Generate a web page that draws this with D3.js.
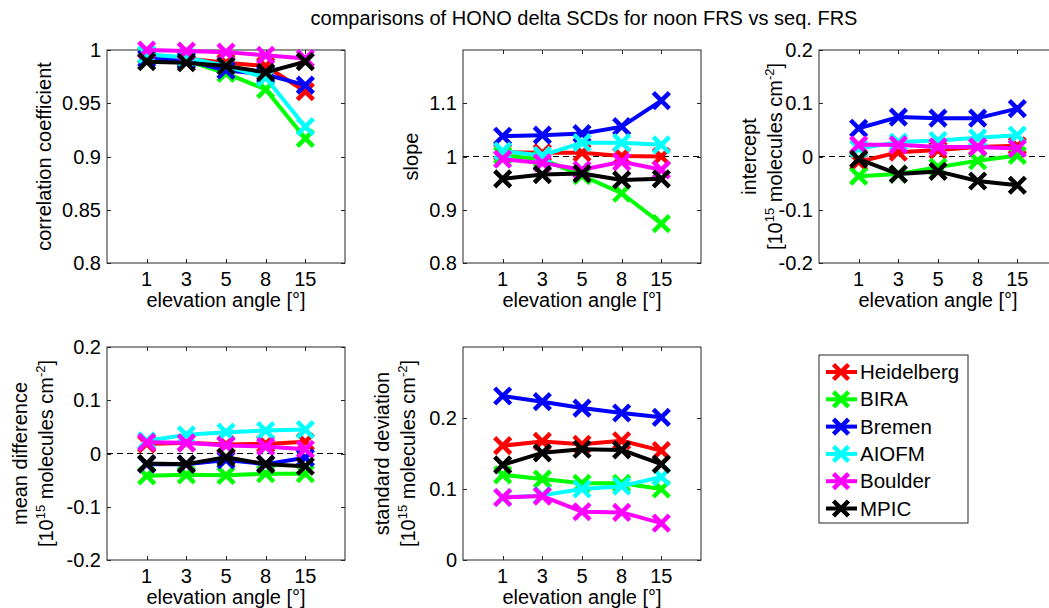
<!DOCTYPE html>
<html>
<head>
<meta charset="utf-8">
<script src="https://cdn.jsdelivr.net/npm/d3@7"></script>
<style>
body { margin: 0; background: #fff; }
svg { display: block; font-family: "Liberation Sans", Arial, sans-serif; }
</style>
</head>
<body>
<svg id="fig" width="1049" height="608"></svg>
<script>
// elevation angles (categories)
var angles = ["1", "3", "5", "8", "15"];
var groups = ["Heidelberg", "BIRA", "Bremen", "AIOFM", "Boulder", "MPIC"];
var colors = ["#ff0000", "#00ff00", "#0000ff", "#00ffff", "#ff00ff", "#000000"];

// correlation coefficient, one row per group
var corr = [
	[0.995, 0.992, 0.988, 0.985, 0.961],
	[0.995, 0.990, 0.978, 0.963, 0.917],
	[0.992, 0.990, 0.981, 0.977, 0.967],
	[0.996, 0.993, 0.985, 0.974, 0.928],
	[1.000, 0.999, 0.998, 0.995, 0.992],
	[0.989, 0.988, 0.985, 0.979, 0.989]
];
var slope = [
	[1.008, 1.007, 1.007, 1.001, 1.000],
	[1.002, 0.995, 0.964, 0.931, 0.874],
	[1.038, 1.040, 1.043, 1.056, 1.105],
	[1.010, 1.002, 1.026, 1.026, 1.022],
	[0.995, 0.988, 0.975, 0.990, 0.975],
	[0.958, 0.966, 0.968, 0.956, 0.958]
];
var intercept = [
	[-0.010, 0.008, 0.012, 0.018, 0.020],
	[-0.037, -0.033, -0.020, -0.008, 0.002],
	[0.053, 0.074, 0.072, 0.072, 0.090],
	[0.015, 0.027, 0.030, 0.035, 0.040],
	[0.022, 0.022, 0.018, 0.018, 0.015],
	[-0.005, -0.033, -0.028, -0.046, -0.054]
];
var meandiff = [
	[0.018, 0.020, 0.017, 0.018, 0.022],
	[-0.042, -0.040, -0.041, -0.038, -0.038],
	[-0.020, -0.020, -0.012, -0.020, -0.008],
	[0.024, 0.035, 0.040, 0.043, 0.045],
	[0.021, 0.020, 0.015, 0.013, 0.008],
	[-0.019, -0.020, -0.007, -0.020, -0.024]
];
var stdev = [
	[0.161, 0.167, 0.163, 0.168, 0.154],
	[0.120, 0.114, 0.108, 0.108, 0.100],
	[0.231, 0.223, 0.214, 0.207, 0.201],
	[0.088, 0.091, 0.100, 0.104, 0.117],
	[0.088, 0.090, 0.068, 0.067, 0.052],
	[0.134, 0.151, 0.156, 0.155, 0.135]
];

var ticksCorr = [0.8, 0.85, 0.9, 0.95, 1];
var labelsCorr = ["0.8", "0.85", "0.9", "0.95", "1"];
var ticksSlope = [0.8, 0.9, 1, 1.1];
var labelsSlope = ["0.8", "0.9", "1", "1.1"];
var ticksPm = [-0.2, -0.1, 0, 0.1, 0.2];
var labelsPm = ["-0.2", "-0.1", "0", "0.1", "0.2"];
var ticksStd = [0, 0.1, 0.2];
var labelsStd = ["0", "0.1", "0.2"];

var svg = d3.select("#fig");
var fs = 20;

function unitLabel(g){
	g.append("tspan").text("[10");
	g.append("tspan").attr("dy", -8).attr("font-size", 13).text("15");
	g.append("tspan").attr("dy", 8).text(" molecules cm");
	g.append("tspan").attr("dy", -8).attr("font-size", 13).text("-2");
	g.append("tspan").attr("dy", 8).text("]");
}

function drawPanel(p){
	var w = 238, h = 213;
	var g = svg.append("g").attr("transform", "translate(" + p.x + "," + p.y + ")");

	var x = d3.scalePoint().domain(angles).range([w / 6, w * 5 / 6]);
	var y = d3.scaleLinear().domain(p.domain).range([h, 0]);

	// box
	g.append("rect").attr("width", w).attr("height", h)
	.attr("fill", "none").attr("stroke", "#262626").attr("stroke-width", 1);

	// ticks inside on all four sides
	var tl = 4;
	angles.forEach(function(a){
		var xx = Math.round(x(a)) + 0.5;
		g.append("line").attr("x1", xx).attr("x2", xx).attr("y1", h).attr("y2", h - tl).attr("stroke", "#262626");
		g.append("line").attr("x1", xx).attr("x2", xx).attr("y1", 0).attr("y2", tl).attr("stroke", "#262626");
		g.append("text").attr("x", x(a)).attr("y", h + 23)
		.attr("text-anchor", "middle").attr("font-size", fs).text(a);
	});
	p.ticks.forEach(function(t, i){
		var yy = Math.round(y(t)) + 0.5;
		g.append("line").attr("x1", 0).attr("x2", tl).attr("y1", yy).attr("y2", yy).attr("stroke", "#262626");
		g.append("line").attr("x1", w).attr("x2", w - tl).attr("y1", yy).attr("y2", yy).attr("stroke", "#262626");
		g.append("text").attr("x", -6).attr("y", y(t) + 7)
		.attr("text-anchor", "end").attr("font-size", fs).text(p.labels[i]);
	});

	g.append("text").attr("x", w / 2).attr("y", h + 44)
	.attr("text-anchor", "middle").attr("font-size", fs).text("elevation angle [\u00b0]");

	// y label
	if(p.unit){
		g.append("text").attr("transform", "translate(" + (p.lx - 26) + "," + (h / 2) + ") rotate(-90)")
		.attr("text-anchor", "middle").attr("font-size", fs).text(p.ylabel);
		var t2 = g.append("text").attr("transform", "translate(" + p.lx + "," + (h / 2) + ") rotate(-90)")
		.attr("text-anchor", "middle").attr("font-size", fs);
		unitLabel(t2);
	} else {
		g.append("text").attr("transform", "translate(" + p.lx + "," + (h / 2) + ") rotate(-90)")
		.attr("text-anchor", "middle").attr("font-size", fs).text(p.ylabel);
	}

	if(p.ref !== undefined){
		g.append("line").attr("x1", 0).attr("x2", w)
		.attr("y1", y(p.ref)).attr("y2", y(p.ref))
		.attr("stroke", "#000").attr("stroke-width", 1).attr("stroke-dasharray", "6,4");
	}

	var line = d3.line().x(function(d, i){ return x(angles[i]); }).y(function(d){ return y(d); });

	p.data.forEach(function(s, k){
		g.append("path").attr("d", line(s)).attr("fill", "none")
		.attr("stroke", colors[k]).attr("stroke-width", 4).attr("stroke-linejoin", "round");
		s.forEach(function(v, i){
			var cx = x(angles[i]), cy = y(v), m = 8;
			g.append("path")
			.attr("d", "M" + (cx - m) + "," + (cy - m) + "L" + (cx + m) + "," + (cy + m) +
				"M" + (cx - m) + "," + (cy + m) + "L" + (cx + m) + "," + (cy - m))
			.attr("stroke", colors[k]).attr("stroke-width", 4.5);
		});
	});
}

drawPanel({x: 107, y: 50, domain: [0.8, 1], ticks: ticksCorr, labels: labelsCorr,
	data: corr, ylabel: "correlation coefficient", lx: -56});
drawPanel({x: 463, y: 50, domain: [0.8, 1.2], ticks: ticksSlope, labels: labelsSlope,
	data: slope, ylabel: "slope", lx: -45, ref: 1});
drawPanel({x: 819, y: 50, domain: [-0.2, 0.2], ticks: ticksPm, labels: labelsPm,
	data: intercept, ylabel: "intercept", lx: -37, unit: true, ref: 0});
drawPanel({x: 107, y: 347, domain: [-0.2, 0.2], ticks: ticksPm, labels: labelsPm,
	data: meandiff, ylabel: "mean difference", lx: -54, unit: true, ref: 0});
drawPanel({x: 463, y: 347, domain: [0, 0.3], ticks: ticksStd, labels: labelsStd,
	data: stdev, ylabel: "standard deviation", lx: -48, unit: true});

// title
svg.append("text").attr("x", 584).attr("y", 25).attr("text-anchor", "middle")
.attr("font-size", 20).text("comparisons of HONO delta SCDs for noon FRS vs seq. FRS");

// legend
var leg = svg.append("g").attr("transform", "translate(819,355)");
leg.append("rect").attr("width", 149).attr("height", 168)
.attr("fill", "#fff").attr("stroke", "#262626").attr("stroke-width", 1);
groups.forEach(function(name, k){
	var yy = 17 + k * 27.3;
	leg.append("line").attr("x1", 7).attr("x2", 38).attr("y1", yy).attr("y2", yy)
	.attr("stroke", colors[k]).attr("stroke-width", 4);
	var m = 7.5, cx = 22;
	leg.append("path")
	.attr("d", "M" + (cx - m) + "," + (yy - m) + "L" + (cx + m) + "," + (yy + m) +
		"M" + (cx - m) + "," + (yy + m) + "L" + (cx + m) + "," + (yy - m))
	.attr("stroke", colors[k]).attr("stroke-width", 4.5);
	leg.append("text").attr("x", 41).attr("y", yy + 7).attr("font-size", 20.5).text(name);
});
</script>
</body>
</html>
